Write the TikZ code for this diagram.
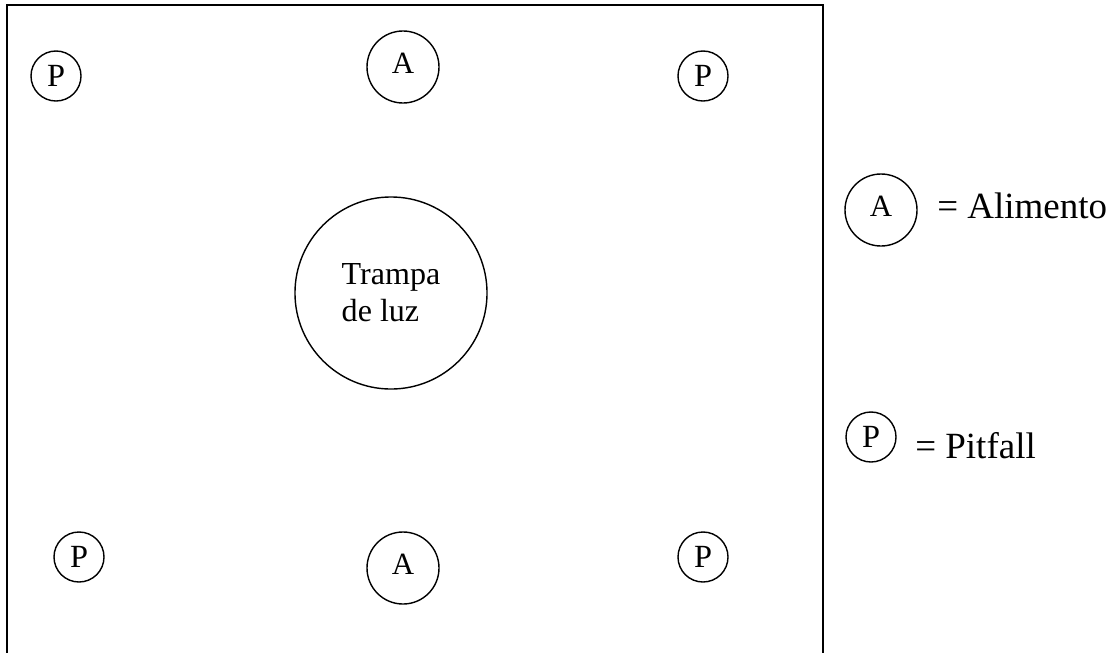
\documentclass[tikz,border=0pt]{standalone}
\usepackage{fontspec}
\setmainfont{Liberation Serif}
\usetikzlibrary{positioning}

\begin{document}
\begin{tikzpicture}[
    % GLOBAL CFG
    x=0.025cm, y=-0.025cm,
    % Styles
    field/.style={% For the outer frame
        line width=1.4pt,
        },
    pit/.style={% For the pitfall traps
        circle,
        draw,
        line width=1pt,
        minimum size=1.25cm,
        inner sep=0pt,
        font=\fontsize{23}{27}\selectfont,
        },
    food/.style={% For the food points
        circle,
        draw,
        line width=1pt,
        minimum size=1.8cm,
        inner sep=0pt,
        text depth=0.2cm,
        font=\fontsize{22}{26}\selectfont,
        },
    lamp/.style={% For the light trap
        circle,
        draw,
        line width=1pt,
        minimum size=4.8cm,
        inner sep=0pt,
        align=left,
        font=\fontsize{22.8}{26.5}\selectfont,
        },
    legend/.style={% Legend texts
        anchor=base west,
        inner sep=0pt,
        font=\fontsize{26.3}{30}\selectfont,
        },
    ]
    \useasboundingbox (0,0) rectangle (1116,652);

    % Draw the field (bottom edge is outside the picture)
    \draw [field] (7,660) -- (7,5) -- (823,5) -- (823,660);

    % Draw the pitfalls named pit#
    \node [pit] (pit1) at (56,76) {P};
    \node [pit] (pit2) at (703,76) {P};
    \node [pit] (pit3) at (79,557) {P};
    \node [pit] (pit4) at (703,557) {P};

    % Draw the food named food#
    \node [food] (food1) at (403,67) {A};
    \node [food] (food2) at (403,568) {A};

    % Draw the light trap
    \node [lamp] (lamp) at (391,293) {Trampa\\de luz};

    % Legend
    \node [food] (kfood) at (881,210) {A};
    \node [pit] (kpit) at (871,437) {P};
    \node [legend] (kfoodtxt) at (937,218) {= Alimento};
    \node [legend] (kpittxt) at (915,458) {= Pitfall};

\end{tikzpicture}
\end{document}
